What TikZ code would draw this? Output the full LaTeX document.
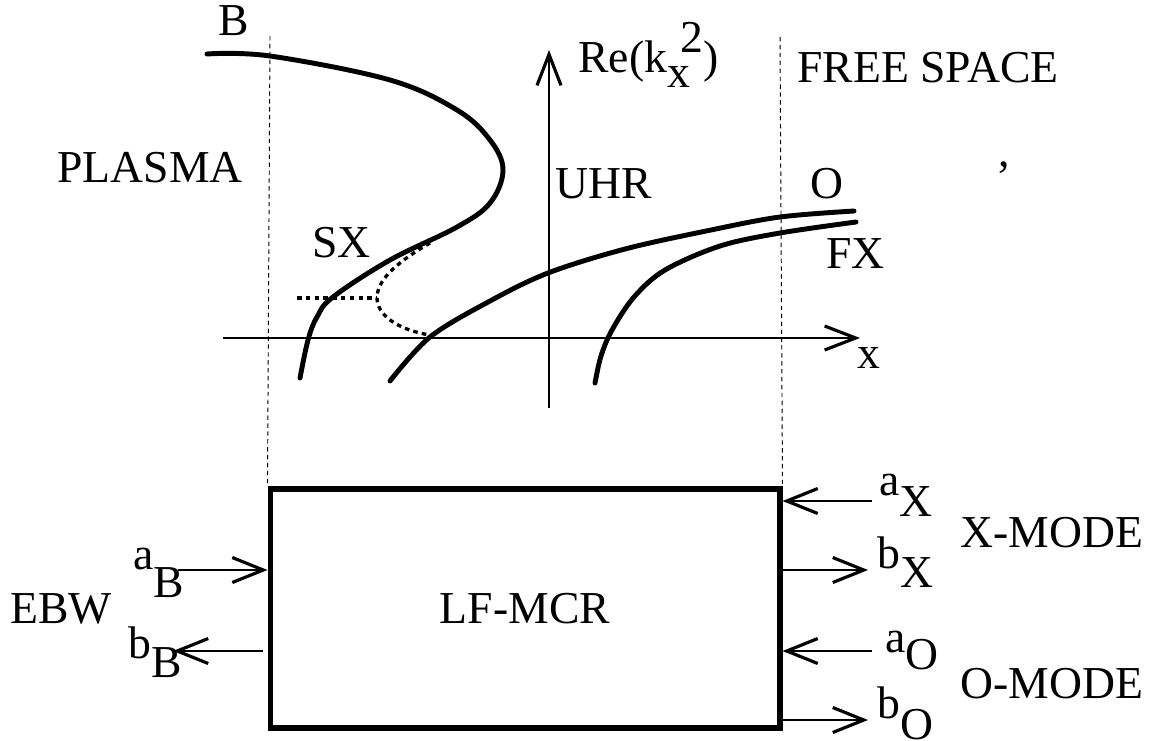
\documentclass[tikz,border=0pt]{standalone}
\usepackage{fontspec}
\setmainfont{Liberation Serif}
\usepackage{tikz}
\usetikzlibrary{arrows.meta,positioning,calc}
\newcommand{\subdn}[2][11pt]{\raisebox{-#1}{#2}}
\newcommand{\supup}[1]{\raisebox{11pt}{#1}}
\tikzset{
  curve/.style={line width=2.8pt, line cap=round},
  dotcurve/.style={line width=1.9pt, dash pattern=on 2.6pt off 2.4pt},
  guide/.style={line width=0.55pt, dash pattern=on 2.5pt off 2pt},
  axis/.style={line width=1.3pt, -{Straight Barb[length=6.2mm, width=4.8mm, line width=1.8pt]}},
  port/.style={line width=1.2pt, -{Straight Barb[length=6.2mm, width=5mm, line width=1.8pt]}},
  mcrbox/.style={draw, line width=2.9pt, minimum width=10.2cm, minimum height=4.78cm, inner sep=0pt, font=\fontsize{26}{30}\selectfont},
  info/.style={font=\fontsize{26}{30}\selectfont, inner sep=0pt, anchor=base west}
}
\begin{document}
\begin{tikzpicture}[x=0.02cm, y=-0.02cm]
  \useasboundingbox (0,0) rectangle (1151,740);
  % dispersion sketch
  \coordinate (xa0) at (223,338);
  \coordinate (xa1) at (860,338);
  \coordinate (ya0) at (549,408);
  \coordinate (ya1) at (549,50);
  \draw[axis] (xa0) -- (xa1);
  \draw[axis] (ya0) -- (ya1);
  \draw[curve] plot[smooth, tension=0.6] coordinates {(207,54) (270,56) (390,80) (457,110) (490,140) (503,170) (490,203) (457,227) (390,260) (333,297) (317,317) (308,340) (300,378)};
  \draw[curve] plot[smooth, tension=0.55] coordinates {(390,381) (430,337) (490,301) (548,273) (625,249) (711,230) (780,217) (854,211)};
  \draw[curve] plot[smooth, tension=0.55] coordinates {(595,383) (601,356) (612,330) (634,297) (665,270) (720,246) (780,233) (856,222)};
  \draw[dotcurve] (297,298) -- (377,298);
  \draw[dotcurve] (430,243) .. controls (392,265) and (377,282) .. (377,298) .. controls (377,315) and (398,330) .. (430,335);
  \node[info] (lB) at (218,36) {B};
  \node[info] (lplasma) at (57,182) {PLASMA};
  \node[info] (lSX) at (312,257) {SX};
  \node[info] (lUHR) at (555,198) {UHR};
  \node[info] (lO) at (810,198) {O};
  \node[info] (lFX) at (826,268) {FX};
  \node[info] (lfree) at (797,83) {FREE SPACE};
  \node[info] (lre) at (578,72) {Re(k\subdn[9pt]{x}\hspace{-0.2em}\supup{2})};
  \node[info] (lx) at (857,368) {x};
  \node[info] (lcomma) at (998,166) {,};
  % scattering block
  \node[mcrbox] (mcr) at (525,608.5) {LF-MCR};
  \draw[guide] (270,36) -- (mcr.north west);
  \draw[guide] (780,37) -- (mcr.north east);
  \coordinate (aBin) at (178,570);
  \coordinate (bBout) at (173,651);
  \coordinate (aXin) at (872,501);
  \coordinate (bXout) at (868,570);
  \coordinate (aOin) at (872,651);
  \coordinate (bOout) at (868,720);
  \draw[port] (aBin) -- (aBin -| mcr.west);
  \draw[port] ($(bBout -| mcr.west)+(-5,0)$) -- (bBout);
  \draw[port] (aXin) -- (aXin -| mcr.east);
  \draw[port] (bXout -| mcr.east) -- (bXout);
  \draw[port] (aOin) -- (aOin -| mcr.east);
  \draw[port] (bOout -| mcr.east) -- (bOout);
  \node[info] (lEBW) at (10,623) {EBW};
  \node[info] (laB) at (133,569) {a\subdn[16pt]{B}};
  \node[info] (lbB) at (128,658) {b\subdn[11pt]{B}};
  \node[info] (laX) at (879,495) {a\subdn[12.5pt]{X}};
  \node[info] (lbX) at (877,568) {b\subdn[11pt]{X}};
  \node[info] (laO) at (885,652) {a\subdn[10pt]{O}};
  \node[info] (lbO) at (877,718) {b\subdn[12pt]{O}};
  \node[info] (lxmode) at (960,547) {X-MODE};
  \node[info] (lomode) at (960,698) {O-MODE};
\end{tikzpicture}
\end{document}
